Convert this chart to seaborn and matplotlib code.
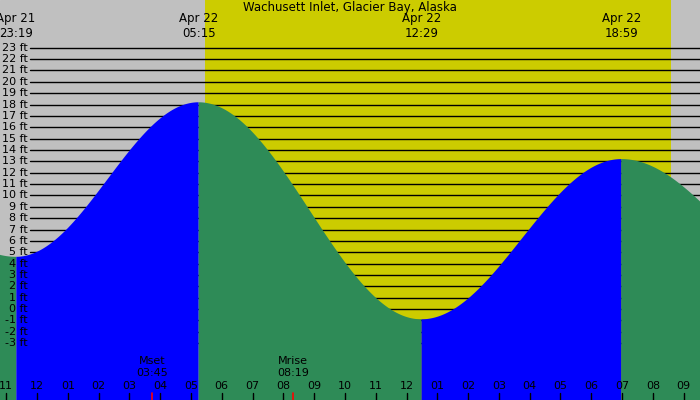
import numpy as np
import pandas as pd
import matplotlib
matplotlib.use("Agg")
import matplotlib.pyplot as plt
import seaborn as sns

# tide extremes: hours since Apr 21 00:00, height in ft
ext_hours = [17.0, 23.32, 29.25, 36.48, 42.98, 49.5]
ext_heights = [15.0, 4.6, 18.2, -0.9, 13.2, 2.0]
label_hours = [23.32, 29.25, 36.48, 42.98]
label_texts = ["Apr 21\n23:19", "Apr 22\n05:15", "Apr 22\n12:29", "Apr 22\n18:59"]
sun_rise, sun_set = 29.46, 44.59
moon_events = [(27.75, "Mset\n03:45"), (32.32, "Mrise\n08:19")]
hour_ticks = list(range(23, 46))
ft_levels = list(range(-3, 24))
title = "Wachusett Inlet, Glacier Bay, Alaska"

X0, X1, Y0, Y1 = 22.80, 45.53, -8.0, 27.2

sns.set_style("white")
plt.rcParams['font.family'] = ['DejaVu Sans']
plt.rcParams['text.color'] = 'black'
fig = plt.figure(figsize=(7, 4), dpi=100)
ax = fig.add_axes([0, 0, 1, 1])
ax.set_xlim(X0, X1); ax.set_ylim(Y0, Y1)
ax.add_patch(plt.Rectangle((X0, Y0), X1 - X0, Y1 - Y0, color="#c0c0c0", zorder=0))
ax.axvspan(sun_rise, sun_set, color="#cccc00", lw=0, zorder=1)

xpx = (X1 - X0) / 700
for f in ft_levels:
    ax.plot([X0 + 30 * xpx, X1], [f, f], color="black", lw=1, zorder=2)
    ax.text(X0 + 28 * xpx, f, f"{f} ft", ha="right", va="center", fontsize=8,
            color="black", zorder=6)

# cosine curve between extremes
t = np.linspace(X0, X1, 1200)
h = np.zeros_like(t)
rising = np.zeros_like(t, dtype=bool)
for i in range(len(ext_hours) - 1):
    a, b = ext_hours[i], ext_hours[i + 1]
    m = (t >= a) & (t <= b)
    ha, hb = ext_heights[i], ext_heights[i + 1]
    h[m] = (ha + hb) / 2 + (ha - hb) / 2 * np.cos(np.pi * (t[m] - a) / (b - a))
    rising[m] = hb > ha
df = pd.DataFrame({"t": t, "h": h})
# extend masks by one sample to avoid seams
r2 = rising | np.roll(rising, 1) | np.roll(rising, -1)
f2 = (~rising) | np.roll(~rising, 1) | np.roll(~rising, -1)
ax.fill_between(t, Y0, h, where=f2, color="#2e8b57", lw=0, zorder=3)
ax.fill_between(t, Y0, h, where=r2 & rising, color="#0000ff", lw=0, zorder=3.1)
sns.lineplot(data=df, x="t", y="h", ax=ax, lw=0, zorder=3)
ax.set_xlim(X0, X1); ax.set_ylim(Y0, Y1)
ax.axis("off")

ypx = (Y1 - Y0) / 400
for x, s in zip(label_hours, label_texts):
    ax.text(x, Y1 - 12 * ypx, s, ha="center", va="top", fontsize=8.5, color="black", zorder=5)
ax.text((X0 + X1) / 2, Y1 - 1 * ypx, title, ha="center", va="top", fontsize=8.5,
        color="black", zorder=5)

for hr in hour_ticks:
    lab = f"{(hr % 12) or 12:02d}"
    ax.text(hr, Y0 + 14 * ypx, lab, ha="center", va="center", fontsize=8, color="black", zorder=5)
    ax.plot([hr, hr], [Y0, Y0 + 7 * ypx], color="black", lw=1, zorder=5)
for x, s in moon_events:
    ax.text(x, Y0 + 33 * ypx, s, ha="center", va="center", fontsize=8, color="black", zorder=5)
    ax.plot([x, x], [Y0, Y0 + 7 * ypx], color="red", lw=1.2, zorder=5)

fig.savefig("out.png", dpi=100)
